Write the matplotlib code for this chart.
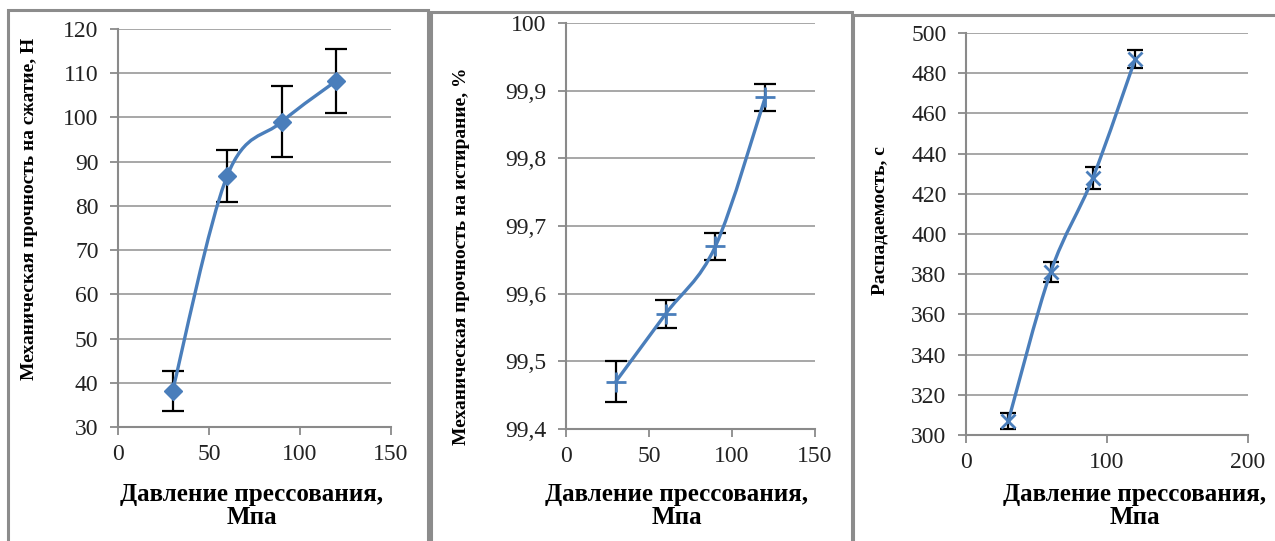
import matplotlib
matplotlib.use('Agg')
import matplotlib.pyplot as plt
from matplotlib.path import Path
from matplotlib.patches import PathPatch, Rectangle
from matplotlib.ticker import FuncFormatter

# давление прессования, МПа
pressure = [30, 60, 90, 120]

# механическая прочность на сжатие, Н
strength = [38.2, 86.8, 99.0, 108.3]
strength_err = [4.5, 5.9, 8.0, 7.2]

# механическая прочность на истирание, %
abrasion = [99.47, 99.57, 99.67, 99.89]
abrasion_err = [0.03, 0.02, 0.02, 0.02]

# распадаемость, с
disint = [307, 381, 428, 487]
disint_err = [4.0, 5.0, 5.5, 4.5]

xlabel_text = 'Давление прессования,\nМпа'
ylabels = ['Механическая прочность на сжатие, Н',
           'Механическая прочность на истирание, %',
           'Распадаемость, с']

W, H = 1275, 541
LINE = '#4a7ebb'
GRID = '#a0a0a0'
AXC = '#8a8a8a'

plt.rcParams['font.family'] = 'serif'
plt.rcParams['font.serif'] = ['Liberation Serif', 'DejaVu Serif']


def smooth_path(xs, ys, k=1/6):
    # кривая Безье как у сглаженной линии Excel
    pts = list(zip(xs, ys))
    n = len(pts)
    verts = [pts[0]]
    codes = [Path.MOVETO]
    for i in range(n - 1):
        p0 = pts[max(i - 1, 0)]
        p1 = pts[i]
        p2 = pts[i + 1]
        p3 = pts[min(i + 2, n - 1)]
        c1 = (p1[0] + (p2[0] - p0[0]) * k, p1[1] + (p2[1] - p0[1]) * k)
        c2 = (p2[0] - (p3[0] - p1[0]) * k, p2[1] - (p3[1] - p1[1]) * k)
        verts += [c1, c2, p2]
        codes += [Path.CURVE4] * 3
    return Path(verts, codes)


def px_axes(fig, x0, y0, x1, y1):
    return fig.add_axes([x0 / W, 1 - y1 / H, (x1 - x0) / W, (y1 - y0) / H])


def draw_panel(ax, ys, errs, marker, msize, capsize, xlim, xticks, ylim, yticks):
    ax.errorbar(pressure, ys, yerr=errs, fmt='none', ecolor='black',
                elinewidth=1.6, capsize=capsize, capthick=1.6, zorder=3)
    ax.add_patch(PathPatch(smooth_path(pressure, ys), fill=False,
                           edgecolor=LINE, linewidth=2.4, zorder=4,
                           capstyle='round'))
    if marker in ('+', 'x'):
        ax.plot(pressure, ys, linestyle='none', marker=marker, markersize=msize,
                markeredgecolor=LINE, markeredgewidth=2, zorder=5)
    else:
        ax.plot(pressure, ys, linestyle='none', marker=marker, markersize=msize,
                color=LINE, markeredgecolor=LINE, zorder=5)
    ax.set_xlim(*xlim)
    ax.set_ylim(*ylim)
    ax.set_xticks(xticks)
    ax.set_yticks(yticks)
    ax.grid(axis='y', color=GRID, linewidth=1.3)
    ax.set_axisbelow(True)
    for s in ['top', 'right']:
        ax.spines[s].set_visible(False)
    for s in ['left', 'bottom']:
        ax.spines[s].set_color(AXC)
        ax.spines[s].set_linewidth(1.5)
    ax.tick_params(axis='both', direction='out', length=6, width=1.3,
                   color=AXC, labelsize=17, labelcolor='#222222')
    ax.tick_params(axis='y', pad=8)
    ax.tick_params(axis='x', pad=6)


fig = plt.figure(figsize=(W / 100, H / 100), dpi=100)

# рамки областей диаграмм
for x0, y0, x1 in [(8, 10, 428), (431, 12, 852), (853, 15, 1290)]:
    fig.add_artist(Rectangle((x0 / W, -0.05), (x1 - x0) / W, 1.05 - y0 / H,
                             transform=fig.transFigure, fill=False,
                             edgecolor='#8c8c8c', linewidth=2.2))

ax1 = px_axes(fig, 118, 29, 391, 427)
draw_panel(ax1, strength, strength_err, 'D', 9, 8, (0, 150), [0, 50, 100, 150],
           (30, 120), range(30, 121, 10))

ax2 = px_axes(fig, 566, 23, 815, 429)
draw_panel(ax2, abrasion, abrasion_err, '+', 14, 8, (0, 150), [0, 50, 100, 150],
           (99.4, 100.0), [99.4, 99.5, 99.6, 99.7, 99.8, 99.9, 100.0])
ax2.yaxis.set_major_formatter(FuncFormatter(
    lambda v, p: ('%g' % round(v, 1)).replace('.', ',')))

ax3 = px_axes(fig, 966, 33, 1248, 435)
draw_panel(ax3, disint, disint_err, 'x', 10, 6, (0, 200), [0, 100, 200],
           (300, 500), range(300, 501, 20))

# подписи осей
for ax, lab, (lx, ly), (xx, xy) in [
        (ax1, ylabels[0], (30, 209), (252, 483)),
        (ax2, ylabels[1], (462, 256), (677, 483)),
        (ax3, ylabels[2], (880, 221), (1135, 483))]:
    ax.set_ylabel(lab, fontsize=14, fontweight='bold', va='center')
    ax.yaxis.set_label_coords(lx / W, 1 - ly / H, transform=fig.transFigure)
    ax.set_xlabel(xlabel_text, fontsize=18, fontweight='bold', linespacing=1.0)
    ax.xaxis.set_label_coords(xx / W, 1 - xy / H, transform=fig.transFigure)

fig.savefig('out.png', dpi=100)
